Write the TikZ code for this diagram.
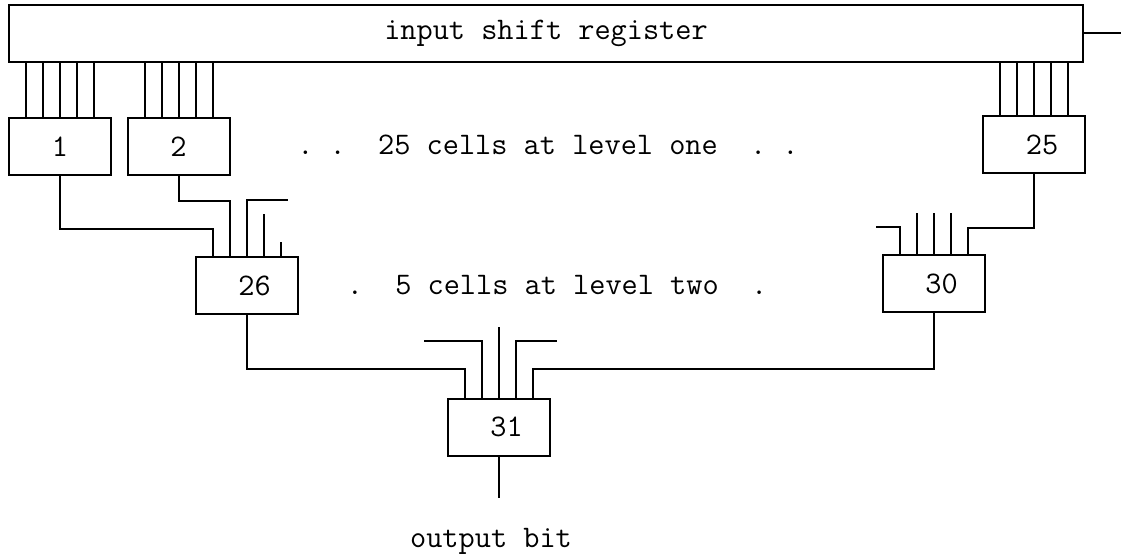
\documentclass[tikz,border=0pt]{standalone}
\usepackage{tikz}
\usetikzlibrary{calc}

\begin{document}
\begin{tikzpicture}
    [x=0.5pt,y=-0.5pt,line width=1pt,
     font=\fontsize{15.7}{18}\selectfont\ttfamily,
     cell/.style={draw,minimum width=51pt,minimum height=28.5pt,inner sep=0pt}]

    \useasboundingbox (0,0) rectangle (1121,556);

    % register, serial input on the right
    \node[draw,minimum width=537pt,minimum height=28.5pt] (reg) at (546,33.5) {input shift register};
    \draw (reg.east) -- ++(38,0) coordinate (serin);

    % level one
    \node[cell] (c1) at (60,146.5) {1};
    \node[cell] (c2) at (178.5,146.5) {2};
    \node[cell] (c25) at (1034,144.5) {~25};
    \foreach \c in {c1,c2,c25}
        \foreach \d in {-34,-17,0,17,34}
            \draw (\c.north) ++(\d,0) coordinate (tap) -- (tap |- reg.south);

    \node[anchor=base] (lvl1) at (548,155) {.~.~~25 cells at level one~~.~.};

    % level two
    \node[cell] (c26) at (246.5,285.5) {~26};
    \node[cell] (c30) at (933.5,283.5) {~30};

    \draw (c1.south) -- (c1.south |- 0,229) -| ($(c26.north)+(-34,0)$);
    \draw (c2.south) -- (c2.south |- 0,201) -| ($(c26.north)+(-17,0)$);
    \draw (c26.north) -- ++(0,-56) -- ++(41.5,0);
    \draw ($(c26.north)+(17,0)$) -- ++(0,-42);
    \draw ($(c26.north)+(34,0)$) -- ++(0,-14);

    \draw (c25.south) -- (c25.south |- 0,228) -| ($(c30.north)+(34,0)$);
    \draw ($(c30.north)+(-34,0)$) -- ++(0,-27) -- ++(-23.5,0);
    \foreach \d in {-17,0,17}
        \draw ($(c30.north)+(\d,0)$) -- ++(0,-41);

    \node[anchor=base] (lvl2) at (557,294) {.~~5 cells at level two~~.};

    % level three
    \node[cell] (c31) at (498.5,427) {~31};

    \draw (c26.south) -- (c26.south |- 0,369) -| ($(c31.north)+(-34,0)$);
    \draw (c30.south) -- (c30.south |- 0,369) -| ($(c31.north)+(34,0)$);
    \draw ($(c31.north)+(-17,0)$) -- ++(0,-56.5) -- ++(-57.5,0);
    \draw (c31.north) -- ++(0,-70.5);
    \draw ($(c31.north)+(17,0)$) -- ++(0,-56.5) -- ++(41.5,0);

    \draw (c31.south) -- ++(0,41) coordinate (outbit);
    \node[anchor=base] (outlbl) at (491,547) {output bit};
\end{tikzpicture}
\end{document}
